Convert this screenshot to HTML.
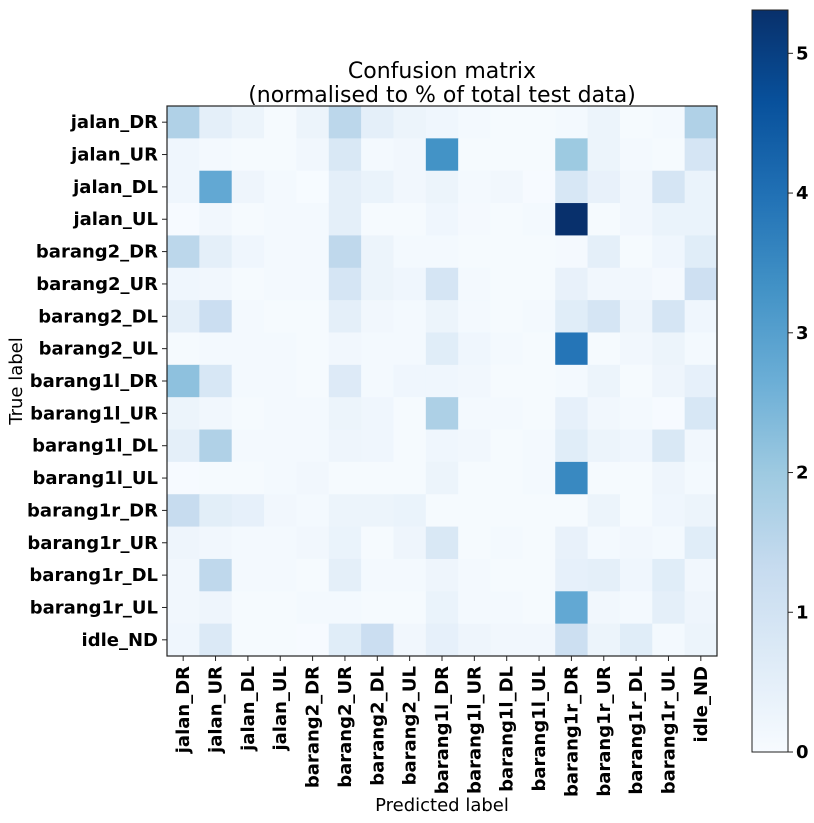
<!DOCTYPE html>
<html><head><meta charset="utf-8"><style>
body{margin:0;background:#fff}
svg{display:block;font-family:"DejaVu Sans","Liberation Sans",sans-serif}
</style></head><body>
<svg id="chart" width="814" height="823" xmlns="http://www.w3.org/2000/svg">
<text x="442" y="78" font-size="22" text-anchor="middle">Confusion matrix</text>
<text x="442" y="102" font-size="22" text-anchor="middle">(normalised to % of total test data)</text>
<g id="cells"></g>
<g id="ticks"></g>
<rect x="167" y="106" width="550" height="550" fill="none" stroke="#222" stroke-width="1.2"/>
<text transform="translate(22,381) rotate(-90)" font-size="18" text-anchor="middle">True label</text>
<text x="442" y="811" font-size="18" text-anchor="middle">Predicted label</text>
<defs><linearGradient id="cbg" x1="0" y1="1" x2="0" y2="0"></linearGradient></defs>
<rect x="752" y="10" width="36" height="742" fill="url(#cbg)" stroke="#222" stroke-width="1"/>
<g id="cbticks"></g>
</svg>
<script>
const labels=["jalan_DR","jalan_UR","jalan_DL","jalan_UL","barang2_DR","barang2_UR","barang2_DL","barang2_UL","barang1l_DR","barang1l_UR","barang1l_DL","barang1l_UL","barang1r_DR","barang1r_UR","barang1r_DL","barang1r_UL","idle_ND"];
const values=[
[1.7,0.5,0.3,0.05,0.3,1.5,0.5,0.3,0.2,0.1,0.05,0.05,0.1,0.3,0.05,0.1,1.7],
[0.2,0.1,0.05,0.05,0.15,0.8,0.1,0.15,3.3,0.05,0.05,0.05,2.0,0.3,0.1,0.05,0.9],
[0.2,2.8,0.25,0.1,0.02,0.5,0.35,0.15,0.3,0.1,0.15,0.03,0.85,0.4,0.15,0.9,0.35],
[0.03,0.15,0.05,0.1,0.1,0.5,0.05,0.05,0.2,0.08,0.05,0.1,5.3,0.05,0.15,0.35,0.35],
[1.5,0.5,0.2,0.1,0.1,1.45,0.3,0.1,0.1,0.05,0.05,0.05,0.08,0.5,0.05,0.2,0.6],
[0.2,0.15,0.05,0.1,0.1,0.9,0.3,0.2,0.9,0.1,0.05,0.05,0.4,0.15,0.15,0.08,1.1],
[0.5,1.2,0.1,0.05,0.05,0.5,0.15,0.1,0.3,0.1,0.05,0.1,0.6,0.9,0.25,0.9,0.2],
[0.05,0.1,0.1,0.1,0.05,0.15,0.1,0.1,0.6,0.2,0.1,0.05,3.9,0.05,0.15,0.3,0.1],
[2.2,0.85,0.1,0.1,0.05,0.7,0.1,0.2,0.2,0.15,0.05,0.05,0.1,0.3,0.05,0.25,0.45],
[0.3,0.15,0.05,0.1,0.1,0.3,0.2,0.05,1.75,0.1,0.1,0.05,0.45,0.15,0.1,0.03,0.85],
[0.5,1.7,0.1,0.1,0.1,0.25,0.2,0.05,0.2,0.15,0.05,0.1,0.6,0.3,0.2,0.8,0.15],
[0.03,0.05,0.05,0.1,0.15,0.05,0.05,0.05,0.3,0.05,0.05,0.1,3.5,0.05,0.05,0.25,0.1],
[1.3,0.55,0.45,0.15,0.1,0.3,0.3,0.35,0.05,0.05,0.05,0.05,0.05,0.3,0.05,0.2,0.3],
[0.25,0.15,0.1,0.1,0.15,0.35,0.05,0.25,0.8,0.05,0.1,0.05,0.4,0.1,0.15,0.1,0.6],
[0.15,1.45,0.1,0.1,0.05,0.5,0.1,0.1,0.25,0.1,0.05,0.05,0.45,0.5,0.2,0.6,0.15],
[0.15,0.25,0.05,0.05,0.1,0.1,0.05,0.05,0.35,0.1,0.1,0.05,2.8,0.15,0.1,0.5,0.25],
[0.2,0.75,0.05,0.05,0.03,0.6,1.2,0.15,0.45,0.25,0.15,0.15,1.15,0.3,0.6,0.1,0.3]];
const cbTicks=[0,1,2,3,4,5];
const vmin=0, vmax=5.31;
const stops=["#f7fbff","#deebf7","#c6dbef","#9ecae1","#6baed6","#4292c6","#2171b5","#08519c","#08306b"];
function hex(h){return [1,3,5].map(i=>parseInt(h.substr(i,2),16));}
function cmap(v){let t=Math.max(0,Math.min(1,(v-vmin)/(vmax-vmin)))*(stops.length-1);let i=Math.min(Math.floor(t),stops.length-2),f=t-i;const a=hex(stops[i]),b=hex(stops[i+1]);return "rgb("+a.map((c,k)=>Math.round(c+(b[k]-c)*f)).join(",")+")";}
const X0=167,Y0=106,S=550,n=labels.length,cw=S/n;
const xs=i=>X0+i*cw, ys=i=>Y0+i*cw;
const NS="http://www.w3.org/2000/svg";
const cells=document.getElementById("cells"),ticks=document.getElementById("ticks");
function mk(tag,attrs,parent){const e=document.createElementNS(NS,tag);for(const k in attrs)e.setAttribute(k,attrs[k]);parent.appendChild(e);return e;}
values.forEach((row,r)=>row.forEach((v,c)=>{
 const e=mk("rect",{x:xs(c),y:ys(r),width:cw+0.5,height:cw+0.5,fill:cmap(v)},cells);
 
 
}));
labels.forEach((l,i)=>{
 const cy=ys(i)+cw/2, cx=xs(i)+cw/2;
 mk("line",{x1:X0-5,x2:X0,y1:cy,y2:cy,stroke:"#222"},ticks);
 mk("line",{x1:cx,x2:cx,y1:Y0+S,y2:Y0+S+5,stroke:"#222"},ticks);
 const t=mk("text",{x:X0-9,y:cy+6,"font-size":18,"font-weight":"bold","text-anchor":"end"},ticks);
 t.textContent=l;
 
 
 const t2=mk("text",{transform:"translate("+(cx+6)+","+(Y0+S+10)+") rotate(-90)","font-size":18,"font-weight":"bold","text-anchor":"end"},ticks);
 t2.textContent=l;
 
 
});
const g=document.getElementById("cbg");
stops.forEach((s,i)=>mk("stop",{offset:(i/(stops.length-1)),"stop-color":s},g));
const cbt=document.getElementById("cbticks");
const cbY=v=>752-(v-vmin)/(vmax-vmin)*742;
cbTicks.forEach(v=>{
 mk("line",{x1:788,x2:793,y1:cbY(v),y2:cbY(v),stroke:"#222"},cbt);
 const t=mk("text",{x:796,y:cbY(v)+6,"font-size":18,"font-weight":"bold"},cbt);
 t.textContent=v;
 
 
});
</script>
</body></html>
